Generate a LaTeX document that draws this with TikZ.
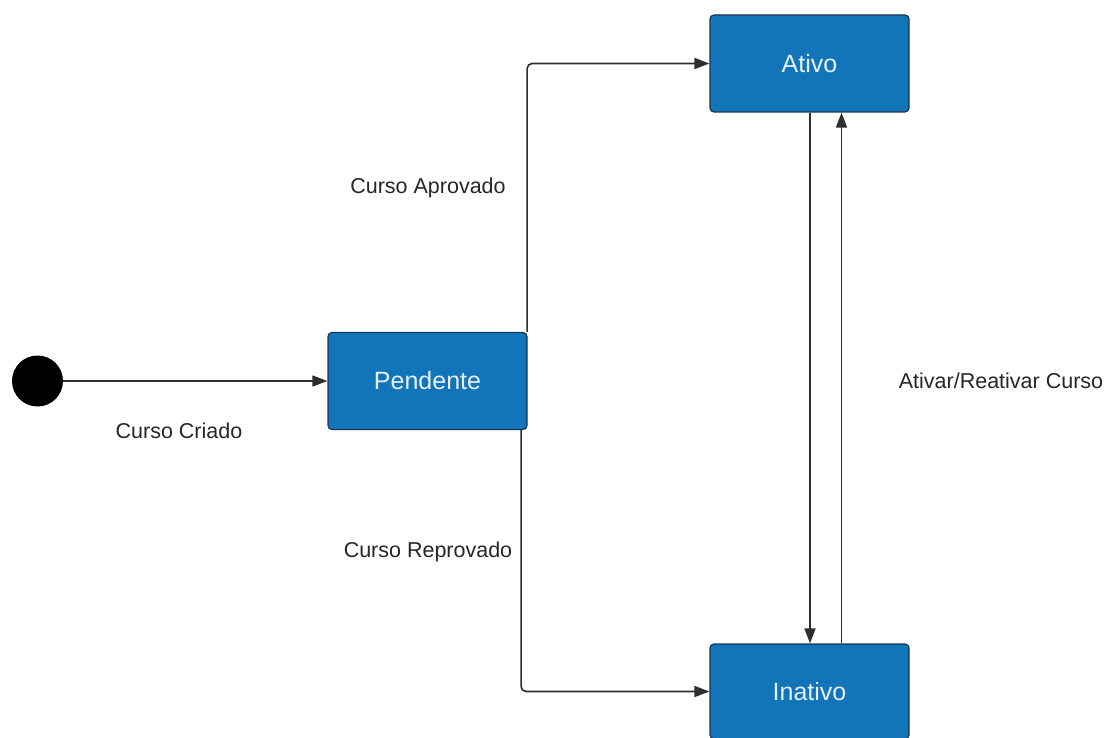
\documentclass[tikz,border=0pt]{standalone}
\usepackage{fontspec}
\setmainfont{Liberation Sans}
\usetikzlibrary{arrows.meta}
\definecolor{stateblue}{HTML}{1274B9}
\definecolor{stateedge}{HTML}{1C3550}
\definecolor{statetext}{HTML}{E6F2FB}
\definecolor{wire}{HTML}{2E2E2E}
\tikzset{
  stateblock/.style={draw=stateedge, line width=1.2pt, fill=stateblue, rounded corners=4pt,
    minimum width=199pt, minimum height=97pt, inner sep=0pt,
    text=statetext, font=\fontsize{25}{30}\selectfont},
  startdot/.style={circle, fill=black, minimum size=51pt, inner sep=0pt},
  flow/.style={draw=wire, line width=1.6pt, -{Triangle[length=15pt,width=11pt]}},
  lbl/.style={font=\fontsize{21.5}{26}\selectfont, text=black!85}
}
\begin{document}
\begin{tikzpicture}[x=1pt,y=-1pt]
\useasboundingbox (0,0) rectangle (1109,738);
% states
\node[startdot] (init) at (37.5,381) {};
\node[stateblock] (pend) at (427.5,381) {Pendente};
\node[stateblock] (ativo) at (809.5,63.5) {Ativo};
\node[stateblock, minimum height=95pt] (inat) at (809.5,691.5) {Inativo};
% transitions
\draw[flow] (init) -- (pend);
\draw[flow, rounded corners=5pt] ([xshift=-0.5pt]pend.north east) |- (ativo.west);
\draw[flow, rounded corners=5pt] ([xshift=-6.5pt]pend.south east) |- (inat.west);
\draw[flow] ([xshift=0.5pt]ativo.south) -- ([xshift=0.5pt]inat.north);
\draw[flow] ([xshift=32pt]inat.north) -- ([xshift=32pt]ativo.south);
% transition labels
\node[lbl] (lcriado) at (179,431) {Curso Criado};
\node[lbl] (laprov) at (428,188) {Curso Aprovado};
\node[lbl] (lreprov) at (428,552) {Curso Reprovado};
\node[lbl] (lreativ) at (1001,381) {Ativar/Reativar Curso};
\end{tikzpicture}
\end{document}
